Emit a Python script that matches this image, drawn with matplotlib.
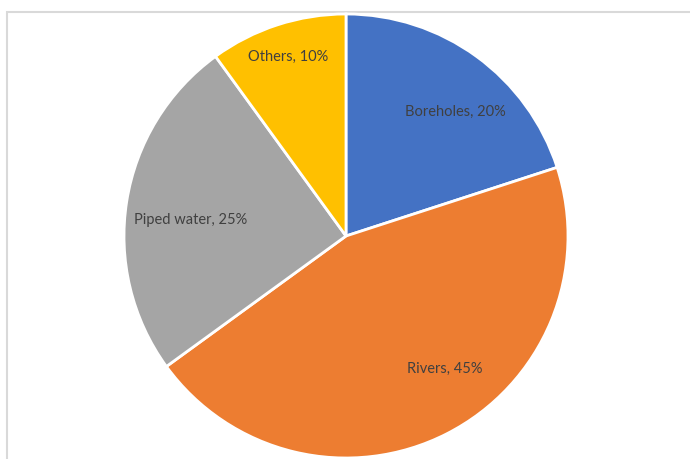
import numpy as np
import matplotlib.pyplot as plt
from matplotlib.patches import Rectangle

categories = ["Boreholes", "Rivers", "Piped water", "Others"]
shares = [20, 45, 25, 10]
colors = ["#4472C4", "#ED7D31", "#A5A5A5", "#FFC000"]

W, H = 690, 459
fig = plt.figure(figsize=(W / 100, H / 100), dpi=100)
ax = fig.add_axes([0, 0, 1, 1])

# chart-area frame
ax.add_patch(Rectangle((6.5, -10), W + 20, H - 11.5 + 10, fill=False,
                       edgecolor="#D9D9D9", linewidth=1.5, zorder=0))

cx, cy, r = 346, H - 236, 222
wedges, texts = ax.pie(
    shares, colors=colors, startangle=90, counterclock=False,
    center=(cx, cy), radius=r, frame=True,
    labels=[f"{c}, {v}%" for c, v in zip(categories, shares)],
    labeldistance=0.72,
    wedgeprops=dict(edgecolor="white", linewidth=2),
    textprops=dict(color="#404040", fontsize=10.5, family="Lato"),
)
ax.set_xlim(0, W)
ax.set_ylim(0, H)
ax.set_aspect("equal")
ax.axis("off")

# per-label radial placement (fraction of radius, angular nudge in degrees)
label_dist = [0.744, 0.745, 0.705, 0.85]
angle_shift = [-5.3, 9.7, 3.1, 0.0]
start = 90.0
for t, v, d, s in zip(texts, shares, label_dist, angle_shift):
    mid = start - 360 * v / 100 / 2 + s
    start -= 360 * v / 100
    th = np.deg2rad(mid)
    t.set_position((cx + d * r * np.cos(th), cy + d * r * np.sin(th)))
    t.set_ha("center")
    t.set_va("center")

fig.savefig("out.png", dpi=100)
